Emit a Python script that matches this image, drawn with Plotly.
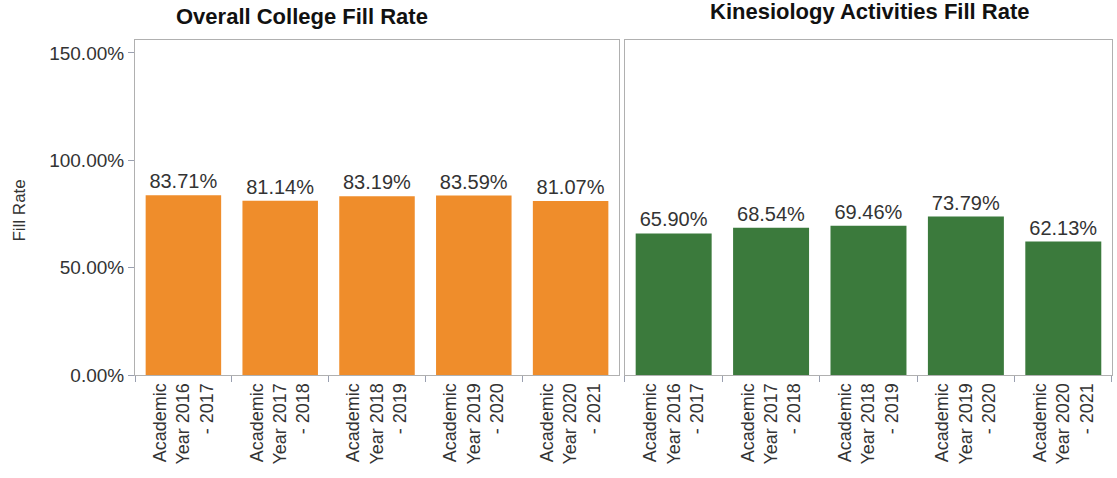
import plotly.graph_objects as go
from plotly.subplots import make_subplots

categories = ["Academic<br>Year 2016<br>- 2017", "Academic<br>Year 2017<br>- 2018",
              "Academic<br>Year 2018<br>- 2019", "Academic<br>Year 2019<br>- 2020",
              "Academic<br>Year 2020<br>- 2021"]
overall_rate = [83.71, 81.14, 83.19, 83.59, 81.07]
kines_rate = [65.90, 68.54, 69.46, 73.79, 62.13]
y_ticks = [0, 50, 100, 150]
y_tick_labels = ["0.00%", "50.00%", "100.00%", "150.00%"]

ORANGE = "#EF8D2B"
GREEN = "#3B7A3C"
FONT = "Liberation Sans, Arial, sans-serif"

fig = make_subplots(rows=1, cols=2, shared_yaxes=True, horizontal_spacing=0.006)

fig.add_trace(go.Bar(x=categories, y=overall_rate, marker_color=ORANGE, marker_line_width=0,
                     text=[f"{v:.2f}%" for v in overall_rate], textposition="outside",
                     textfont=dict(size=20, color="#333333", family=FONT), cliponaxis=False,
                     showlegend=False), row=1, col=1)
fig.add_trace(go.Bar(x=categories, y=kines_rate, marker_color=GREEN, marker_line_width=0,
                     text=[f"{v:.2f}%" for v in kines_rate], textposition="outside",
                     textfont=dict(size=20, color="#333333", family=FONT), cliponaxis=False,
                     showlegend=False), row=1, col=2)

axis_common = dict(showline=True, linecolor="#B0B0B0", linewidth=1, mirror=True,
                   showgrid=False, zeroline=False)

fig.update_xaxes(**axis_common, tickangle=-90, ticks="outside", ticklen=6, tickcolor="#9AA0B0",
                 tickson="boundaries", tickfont=dict(size=18, color="#333333", family=FONT))
fig.update_xaxes(domain=[0, 0.4954], row=1, col=1)
fig.update_xaxes(domain=[0.5015, 1.0], row=1, col=2)
fig.update_yaxes(**axis_common, range=[0, 156], tickvals=y_ticks, ticktext=y_tick_labels,
                 ticks="outside", ticklen=6, tickcolor="#9AA0B0",
                 tickfont=dict(size=19, color="#333333", family=FONT))
fig.update_yaxes(ticks="", row=1, col=2)

fig.update_layout(
    width=1117, height=478,
    margin=dict(l=135, r=5, t=40, b=103),
    paper_bgcolor="white", plot_bgcolor="white",
    bargap=0.22,
    font=dict(family=FONT, color="#333333"),
    annotations=[
        dict(text="<b>Overall College Fill Rate</b>", x=0.171, y=1.069, xref="paper", yref="paper",
             xanchor="center", yanchor="middle",
             showarrow=False, font=dict(size=22, color="#111111", family=FONT)),
        dict(text="<b>Kinesiology Activities Fill Rate</b>", x=0.752, y=1.085, xref="paper", yref="paper",
             xanchor="center", yanchor="middle",
             showarrow=False, font=dict(size=22, color="#111111", family=FONT)),
        dict(text="Fill Rate", x=-0.118, y=0.49, xref="paper", yref="paper", textangle=-90,
             xanchor="center", yanchor="middle",
             showarrow=False, font=dict(size=17, color="#333333", family=FONT)),
    ],
)

fig.write_html("out.html")
